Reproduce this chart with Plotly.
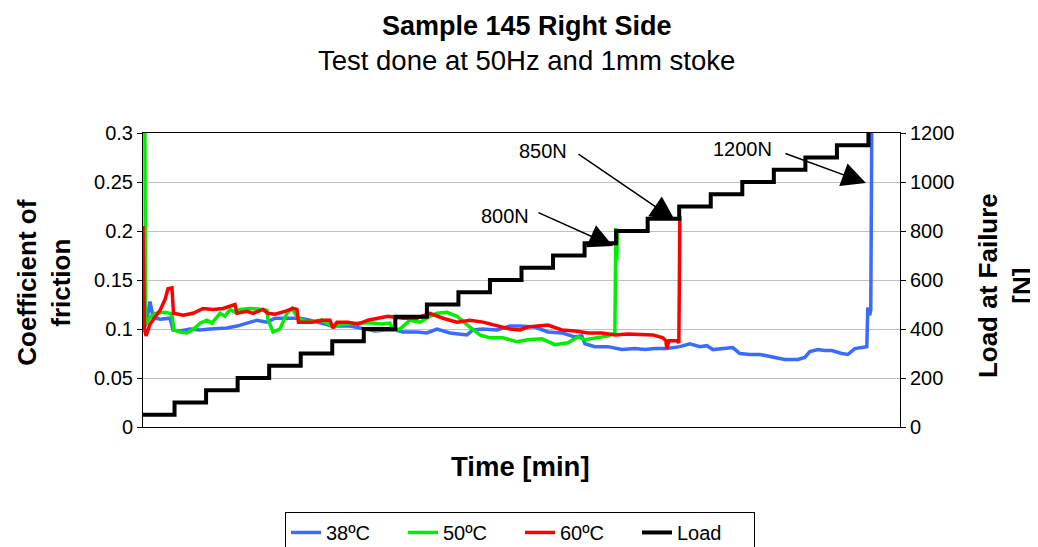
import plotly.graph_objects as go

FONT = "Liberation Sans, Arial, sans-serif"

# ---- data ----
load_time = list(range(0, 24))
load_values = [50, 100, 150, 200, 250, 300, 350, 400, 450, 500, 550, 600,
               650, 700, 750, 800, 850, 900, 950, 1000, 1050, 1100, 1150, 1200]

t38 = [0, 0.095, 0.222, 0.317, 0.539, 0.856, 0.951, 1.173, 1.490, 1.807, 2.124, 2.662,
       2.979, 3.296, 3.613, 3.930, 4.184, 4.976, 5.293, 5.990, 6.561, 7.036, 7.353,
       7.670, 7.987, 8.241, 8.685, 9.002, 9.319, 9.731, 10.269, 10.460, 10.777, 11.220,
       11.632, 11.949, 12.425, 12.837, 13.281, 13.693, 13.914, 14.010, 14.327, 14.739,
       15.182, 15.594, 15.911, 16.228, 16.609, 17.021, 17.338, 17.655, 17.876, 18.067,
       18.384, 18.700, 18.922, 19.239, 19.556, 19.937, 20.349, 20.761, 20.983, 21.141,
       21.395, 21.617, 21.838, 22.155, 22.345, 22.567, 22.884, 22.948, 22.979, 23.043,
       23.074, 23.106]
c38 = [0.100, 0.105, 0.128, 0.112, 0.110, 0.111, 0.099, 0.098, 0.100, 0.099, 0.100, 0.101,
       0.103, 0.106, 0.109, 0.107, 0.111, 0.111, 0.109, 0.103, 0.103, 0.100, 0.098,
       0.099, 0.099, 0.097, 0.097, 0.096, 0.100, 0.096, 0.094, 0.099, 0.100, 0.099,
       0.103, 0.103, 0.102, 0.097, 0.096, 0.092, 0.093, 0.085, 0.082, 0.082,
       0.079, 0.080, 0.079, 0.080, 0.080, 0.082, 0.085, 0.082, 0.083, 0.079,
       0.080, 0.081, 0.075, 0.074, 0.074, 0.072, 0.069, 0.069, 0.071, 0.077,
       0.079, 0.078, 0.078, 0.075, 0.074, 0.080, 0.081, 0.082, 0.122, 0.114,
       0.120, 0.310]

t50 = [0.0, 0.06, 0.079, 0.095, 0.222, 0.380, 0.697, 0.856, 0.919, 0.983, 1.173, 1.395,
       1.648, 1.807, 2.029, 2.187, 2.441, 2.599, 2.758, 2.916, 3.074, 3.391, 3.803,
       3.930, 3.962, 4.120, 4.342, 4.564, 4.723, 4.913, 5.230, 5.674, 5.990, 6.403,
       6.815, 7.258, 7.575, 7.829, 7.924, 8.146, 8.463, 8.780, 9.097, 9.319, 9.635,
       9.952, 10.365, 10.681, 10.998, 11.410, 11.854, 12.203, 12.647, 13.059, 13.471,
       13.788, 14.010, 14.231, 14.422, 14.739, 14.960, 14.992, 15.024, 15.040]
c50 = [0.310, 0.310, 0.110, 0.105, 0.112, 0.116, 0.117, 0.116, 0.114, 0.099, 0.097, 0.096,
       0.101, 0.106, 0.109, 0.106, 0.116, 0.113, 0.120, 0.117, 0.120, 0.121, 0.120,
       0.119, 0.110, 0.097, 0.100, 0.116, 0.121, 0.111, 0.107, 0.109, 0.103, 0.105,
       0.106, 0.106, 0.105, 0.106, 0.099, 0.100, 0.109, 0.107, 0.113, 0.116, 0.117,
       0.113, 0.102, 0.094, 0.091, 0.091, 0.087, 0.089, 0.090, 0.084, 0.086,
       0.092, 0.089, 0.090, 0.091, 0.093, 0.096, 0.203, 0.170, 0.200]

t60 = [0, 0.048, 0.095, 0.222, 0.380, 0.539, 0.697, 0.792, 0.919, 0.967, 1.268, 1.585,
       1.902, 2.219, 2.536, 2.916, 2.979, 3.296, 3.487, 3.803, 3.962, 4.184, 4.501,
       4.754, 4.881, 4.929, 5.357, 5.674, 5.927, 6.022, 6.149, 6.498, 6.815, 7.132,
       7.449, 7.765, 8.241, 8.685, 9.097, 9.509, 9.952, 10.365, 10.777, 11.220, 11.632,
       11.949, 12.203, 12.837, 13.281, 13.693, 14.105, 14.548, 14.960, 15.372, 15.911,
       16.165, 16.482, 16.577, 16.609, 16.672, 16.926, 16.989, 17.021]
c60 = [0.205, 0.100, 0.093, 0.105, 0.112, 0.119, 0.130, 0.141, 0.142, 0.116, 0.114, 0.116,
       0.121, 0.120, 0.121, 0.125, 0.116, 0.118, 0.116, 0.120, 0.116, 0.115, 0.118,
       0.121, 0.120, 0.107, 0.107, 0.109, 0.109, 0.101, 0.107, 0.107, 0.105, 0.109,
       0.111, 0.113, 0.111, 0.111, 0.116, 0.111, 0.107, 0.109, 0.107, 0.103, 0.100,
       0.099, 0.102, 0.104, 0.099, 0.098, 0.096, 0.096, 0.094, 0.095, 0.094,
       0.094, 0.091, 0.088, 0.080, 0.088, 0.088, 0.086, 0.215]

cof_ticks = [0, 0.05, 0.1, 0.15, 0.2, 0.25, 0.3]
cof_labels = ["0", "0.05", "0.1", "0.15", "0.2", "0.25", "0.3"]
load_ticks = [0, 200, 400, 600, 800, 1000, 1200]

# annotations: label, text position (t, cof), arrow tail (t, cof), arrow tip (t, cof)
ann_labels = ["800N", "850N", "1200N"]
ann_text_pos = [(11.47, 0.2153), (12.68, 0.2816), (19.02, 0.2837)]
ann_tail = [(12.49, 0.2194), (13.76, 0.2796), (20.32, 0.2796)]
ann_tip = [(14.90, 0.1847), (16.86, 0.2112), (22.92, 0.249)]

fig = go.Figure()
fig.add_trace(go.Scatter(x=t38, y=c38, mode="lines", name="38ºC",
                         line=dict(color="#3a6bff", width=3.5)))
fig.add_trace(go.Scatter(x=t50, y=c50, mode="lines", name="50ºC",
                         line=dict(color="#00ee00", width=3.5)))
fig.add_trace(go.Scatter(x=t60, y=c60, mode="lines", name="60ºC",
                         line=dict(color="#ff0000", width=3.5)))
fig.add_trace(go.Scatter(x=load_time, y=load_values, mode="lines", name="Load",
                         line=dict(color="#000000", width=4, shape="hv"), yaxis="y2"))

annotations = [
    dict(text="<b>Sample 145 Right Side</b>", xref="paper", yref="paper", x=0.507, y=1.364,
         xanchor="center", yanchor="middle", showarrow=False,
         font=dict(size=27, family=FONT, color="black")),
    dict(text="Test done at 50Hz and 1mm stoke", xref="paper", yref="paper", x=0.507, y=1.248,
         xanchor="center", yanchor="middle", showarrow=False,
         font=dict(size=27.5, family=FONT, color="black")),
    dict(text="<b>Coefficient of<br>friction</b>", xref="paper", yref="paper", x=-0.131, y=0.49,
         xanchor="center", yanchor="middle", textangle=-90, showarrow=False,
         font=dict(size=26, family=FONT, color="black")),
    dict(text="<b>Load at Failure<br>[N]</b>", xref="paper", yref="paper", x=1.139, y=0.48,
         xanchor="center", yanchor="middle", textangle=-90, showarrow=False,
         font=dict(size=26, family=FONT, color="black")),
    dict(text="<b>Time [min]</b>", xref="paper", yref="paper", x=0.499, y=-0.136,
         xanchor="center", yanchor="middle", showarrow=False,
         font=dict(size=27.5, family=FONT, color="black")),
]
for lab, tp, tail, tip in zip(ann_labels, ann_text_pos, ann_tail, ann_tip):
    annotations.append(dict(text=lab, x=tp[0], y=tp[1], xref="x", yref="y", showarrow=False,
                            xanchor="center", yanchor="middle",
                            font=dict(size=20, family=FONT, color="black")))
    annotations.append(dict(text="", x=tip[0], y=tip[1], ax=tail[0], ay=tail[1],
                            xref="x", yref="y", axref="x", ayref="y", showarrow=True,
                            arrowhead=2, arrowsize=3.2, arrowwidth=1.5, arrowcolor="black"))

fig.update_layout(
    width=1030, height=539,
    margin=dict(l=135, r=138, t=125, b=120, autoexpand=False),
    paper_bgcolor="white", plot_bgcolor="white",
    font=dict(family=FONT, size=20, color="black"),
    showlegend=True,
    legend=dict(orientation="h", x=0.498, xanchor="center", y=-0.289, yanchor="top",
                bordercolor="black", borderwidth=1, font=dict(size=20, family=FONT),
                traceorder="normal", entrywidth=72, entrywidthmode="pixels"),
    xaxis=dict(range=[0, 24], showticklabels=False, ticks="", showgrid=False, zeroline=False,
               showline=True, linecolor="black", linewidth=1, mirror=True),
    yaxis=dict(range=[0, 0.3], tickvals=cof_ticks, ticktext=cof_labels, ticks="outside",
               ticklen=5, tickcolor="black", showgrid=True, gridcolor="#c0c0c0", gridwidth=1,
               zeroline=False, showline=True, linecolor="black", linewidth=1,
               tickfont=dict(size=20)),
    yaxis2=dict(range=[0, 1200], tickvals=load_ticks, overlaying="y", side="right",
                ticks="outside", ticklen=5, tickcolor="black", showgrid=False, zeroline=False,
                showline=True, linecolor="black", linewidth=1, tickfont=dict(size=20)),
    annotations=annotations,
)

fig.write_html("out.html")
